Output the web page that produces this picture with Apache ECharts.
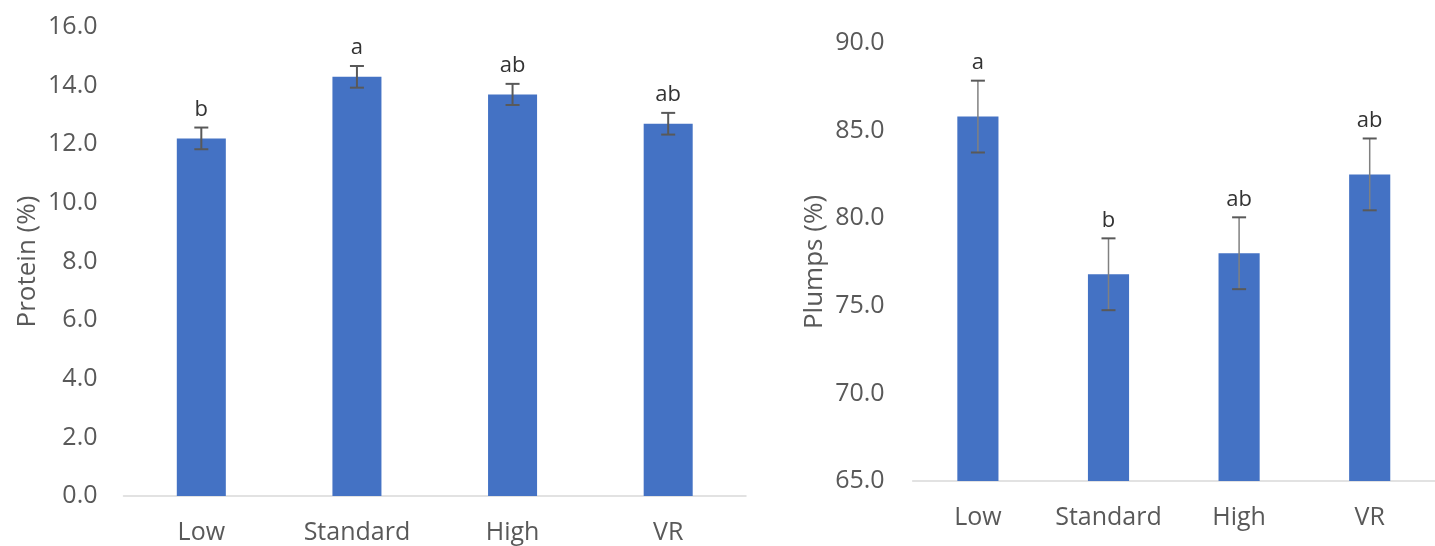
<!DOCTYPE html>
<html>
<head>
<meta charset="utf-8">
<script src="https://cdn.jsdelivr.net/npm/echarts@6/dist/echarts.min.js"></script>
<style>
html,body{margin:0;padding:0;background:#fff;}
#chart{width:1435px;height:546px;}
</style>
</head>
<body>
<div id="chart"></div>
<script>
const categories = ['Low', 'Standard', 'High', 'VR'];
const proteinMean = [12.2, 14.3, 13.7, 12.7];
const proteinErr = [0.37, 0.37, 0.36, 0.37];
const proteinLetters = ['b', 'a', 'ab', 'ab'];
const plumpsMean = [85.8, 76.8, 78.0, 82.5];
const plumpsErr = [2.05, 2.05, 2.05, 2.05];
const plumpsLetters = ['a', 'b', 'ab', 'ab'];
const proteinAxis = { min: 0, max: 16, interval: 2 };
const plumpsAxis = { min: 65, max: 90, interval: 5 };

const FONT = 'Open Sans';
const TXT = '#595959';
const BAR = '#4472C4';

function errData(mean, err) {
  return mean.map((m, i) => [i, m - err[i], m + err[i]]);
}

function makeRender(letters, lineColor, lineW, capColor, capW) {
  return function (params, api) {
    const i = api.value(0);
    const lo = api.coord([i, api.value(1)]);
    const hi = api.coord([i, api.value(2)]);
    const cw = 7;
    return {
      type: 'group',
      children: [
        { type: 'line', shape: { x1: hi[0], y1: hi[1], x2: lo[0], y2: lo[1] }, style: { stroke: lineColor, lineWidth: lineW } },
        { type: 'line', shape: { x1: hi[0] - cw, y1: hi[1], x2: hi[0] + cw, y2: hi[1] }, style: { stroke: capColor, lineWidth: capW } },
        { type: 'line', shape: { x1: lo[0] - cw, y1: lo[1], x2: lo[0] + cw, y2: lo[1] }, style: { stroke: capColor, lineWidth: capW } },
        { type: 'text', style: { text: letters[params.dataIndex], x: hi[0], y: hi[1] - 18, align: 'center', verticalAlign: 'middle', fill: '#333333', font: '22px "Open Sans"' } }
      ]
    };
  };
}

const axisLabelStyle = { color: TXT, fontSize: 25, fontFamily: FONT };

const option = {
  animation: false,
  backgroundColor: '#ffffff',
  grid: [
    { left: 123.5, right: 689, top: 27, bottom: 50 },
    { left: 912.6, right: -21, top: 43, bottom: 65 }
  ],
  xAxis: [0, 1].map(g => ({
    type: 'category', gridIndex: g, data: categories,
    axisLine: { show: true, lineStyle: { color: '#d9d9d9', width: 1.5 } },
    axisTick: { show: false },
    axisLabel: Object.assign({ margin: 24, interval: 0 }, axisLabelStyle),
    splitLine: { show: false }
  })),
  yAxis: [
    {
      type: 'value', gridIndex: 0, min: proteinAxis.min, max: proteinAxis.max, interval: proteinAxis.interval,
      name: 'Protein (%)', nameLocation: 'middle', nameGap: 83,
      nameTextStyle: { color: TXT, fontSize: 26, fontFamily: FONT },
      axisLine: { show: false }, axisTick: { show: false }, splitLine: { show: false },
      axisLabel: Object.assign({ margin: 26, formatter: v => v.toFixed(1) }, axisLabelStyle)
    },
    {
      type: 'value', gridIndex: 1, min: plumpsAxis.min, max: plumpsAxis.max, interval: plumpsAxis.interval,
      name: 'Plumps (%)', nameLocation: 'middle', nameGap: 85,
      nameTextStyle: { color: TXT, fontSize: 26, fontFamily: FONT },
      axisLine: { show: false }, axisTick: { show: false }, splitLine: { show: false },
      axisLabel: Object.assign({ margin: 28, formatter: v => v.toFixed(1) }, axisLabelStyle)
    }
  ],
  series: [
    { type: 'bar', xAxisIndex: 0, yAxisIndex: 0, data: proteinMean, barWidth: '31.5%', itemStyle: { color: BAR } },
    { type: 'bar', xAxisIndex: 1, yAxisIndex: 1, data: plumpsMean, barWidth: '31.5%', itemStyle: { color: BAR } },
    { type: 'custom', xAxisIndex: 0, yAxisIndex: 0, data: errData(proteinMean, proteinErr), z: 10,
      renderItem: makeRender(proteinLetters, '#595959', 2, '#595959', 2) },
    { type: 'custom', xAxisIndex: 1, yAxisIndex: 1, data: errData(plumpsMean, plumpsErr), z: 10,
      renderItem: makeRender(plumpsLetters, '#808080', 1.5, '#595959', 2) }
  ]
};

const chart = echarts.init(document.getElementById('chart'), null, { renderer: 'canvas' });
chart.setOption(option);
</script>
</body>
</html>
